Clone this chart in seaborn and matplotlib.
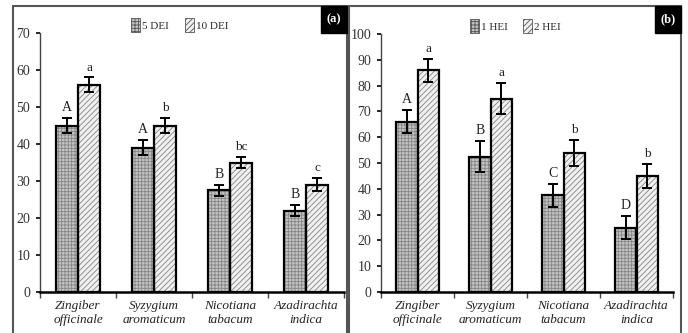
import pandas as pd
import matplotlib
matplotlib.use("Agg")
import matplotlib.pyplot as plt
import seaborn as sns
from matplotlib.patches import Rectangle, Patch

# data
plants = ["Zingiber\nofficinale", "Syzygium\naromaticum", "Nicotiana\ntabacum", "Azadirachta\nindica"]

dei_series = ["5 DEI", "10 DEI"]
dei_5 = [45, 39, 27.5, 22]
dei_10 = [56, 45, 35, 29]
dei_5_err = [2, 2, 1.5, 1.5]
dei_10_err = [2, 2, 1.5, 1.8]
dei_5_letters = ["A", "A", "B", "B"]
dei_10_letters = ["a", "b", "bc", "c"]

hei_series = ["1 HEI", "2 HEI"]
hei_1 = [66, 52.5, 37.5, 25]
hei_2 = [86, 75, 54, 45]
hei_1_err = [4.5, 6, 4.5, 4.5]
hei_2_err = [4.5, 6, 5, 4.5]
hei_1_letters = ["A", "B", "C", "D"]
hei_2_letters = ["a", "a", "b", "b"]

sns.set_style("white")
plt.rcParams["font.family"] = ["Liberation Serif", "DejaVu Serif"]
plt.rcParams["hatch.linewidth"] = 0.6

fig = plt.figure(figsize=(6.88, 3.33), dpi=100)

face = ["#c4c4c4", "#f0f0f0"]
hatches = ["+++++", "//////"]


def panel(rect, names, vals, errs, letters, ymax, tag, border):
    ax = fig.add_axes(rect)
    df = pd.DataFrame({
        "plant": plants * 2,
        "series": [names[0]] * 4 + [names[1]] * 4,
        "value": vals[0] + vals[1],
    })
    sns.barplot(data=df, x="plant", y="value", hue="series", hue_order=names,
                palette=face, width=0.58, gap=0, legend=False, ax=ax)
    bar_groups = list(ax.containers)
    for i, cont in enumerate(bar_groups):
        for j, p in enumerate(cont):
            p.set_hatch(hatches[i])
            p.set_edgecolor("#858585")
            p.set_linewidth(0)
            ax.add_patch(Rectangle(p.get_xy(), p.get_width(), p.get_height(),
                                   fill=False, ec="black", lw=1.6, zorder=3))
            cx = p.get_x() + p.get_width() / 2
            h = p.get_height()
            ax.errorbar(cx, h, yerr=errs[i][j], color="black", lw=1.4,
                        capsize=3.5, capthick=1.4, zorder=4)
            ax.text(cx, h + errs[i][j] + ymax * 0.015, letters[i][j],
                    ha="center", va="bottom",
                    fontsize=10 if i == 0 else 9.5, color="#222222")

    ax.set_xlim(-0.5, 3.5)
    ax.set_ylim(0, ymax)
    ax.set_yticks(range(0, ymax + 1, 10))
    ax.set_xlabel("")
    ax.set_ylabel("")
    for s in ["top", "right"]:
        ax.spines[s].set_visible(False)
    ax.spines["left"].set_color("#444444")
    ax.spines["left"].set_linewidth(1.0)
    ax.spines["bottom"].set_color("black")
    ax.spines["bottom"].set_linewidth(1.8)
    ax.tick_params(axis="y", direction="out", length=3, width=1.2,
                   color="black", labelsize=10, labelcolor="#333333", pad=4, left=True)
    ax.set_xticks([-0.5, 0.5, 1.5, 2.5, 3.5], minor=True)
    ax.tick_params(axis="x", which="minor", direction="out", length=4,
                   width=1.0, color="#444444", bottom=True)
    ax.tick_params(axis="x", which="major", length=0, pad=6)
    ax.set_xticks(range(4))
    ax.set_xticklabels(plants, fontsize=9.5, style="italic",
                       color="#222222", linespacing=1.2)

    handles = [Patch(facecolor=face[k], hatch=hatches[k], edgecolor="#555555",
                     lw=0.6, label=names[k]) for k in range(2)]
    ax.legend(handles=handles, loc="center", bbox_to_anchor=(0.46, 1.03),
              ncol=2, frameon=False, fontsize=8, handlelength=0.8,
              handleheight=1.6, handletextpad=0.2, columnspacing=1.4)

    # panel frame and tag box (figure pixels)
    x0, x1, top = border
    fig.add_artist(Rectangle((x0 / 688, -0.05), (x1 - x0) / 688, 1.05 - top / 333,
                             transform=fig.transFigure, fill=False,
                             ec="#555555", lw=1.5))
    fig.add_artist(Rectangle(((x1 - 26) / 688, 1 - 33 / 333), 26 / 688, 27 / 333,
                             transform=fig.transFigure, fc="black", ec="black"))
    fig.text((x1 - 13) / 688, 1 - 19.5 / 333, tag, color="white",
             fontsize=9, weight="bold", ha="center", va="center")
    return ax


panel([40 / 688, 1 - 292 / 333, 304 / 688, 259 / 333], dei_series,
      [dei_5, dei_10], [dei_5_err, dei_10_err],
      [dei_5_letters, dei_10_letters], 70, "(a)", (13, 347, 6))
panel([381 / 688, 1 - 292 / 333, 292 / 688, 258 / 333], hei_series,
      [hei_1, hei_2], [hei_1_err, hei_2_err],
      [hei_1_letters, hei_2_letters], 100, "(b)", (349, 681, 6))

fig.savefig("out.png", dpi=100)
